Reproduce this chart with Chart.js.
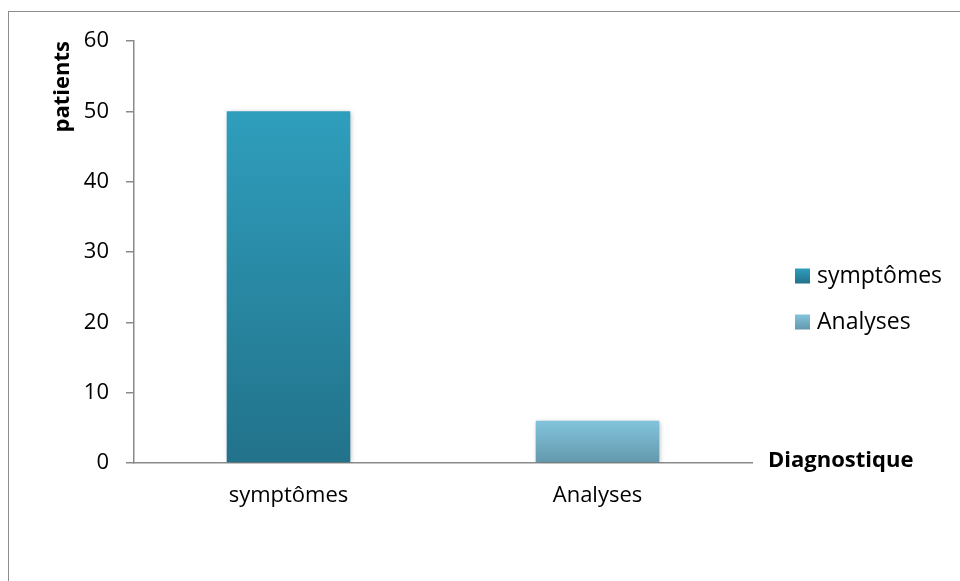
<!DOCTYPE html>
<html>
<head>
<meta charset="utf-8">
<script src="https://cdn.jsdelivr.net/npm/chart.js@4.4.1/dist/chart.umd.min.js"></script>
<style>
  html, body { margin: 0; padding: 0; background: #fff; overflow: hidden; }
  #frame { position: absolute; left: 8px; top: 11px; width: 1200px; height: 800px; border: 1px solid #8c8c8c; box-sizing: border-box; }
  #wrap { position: absolute; left: 0; top: 0; width: 960px; height: 581px; }
</style>
</head>
<body>
<div id="frame"></div>
<div id="wrap"><canvas id="chart" width="960" height="581"></canvas></div>
<script>
// Diagnostic method counts
const categories = ['symptômes', 'Analyses'];
const patients = [50, 6];
const yTicks = [0, 10, 20, 30, 40, 50, 60];
const yAxisTitle = 'patients';
const xAxisTitle = 'Diagnostique';

// top / bottom gradient stops per category
const topColors = ['#2f9ebd', '#82c4dc'];
const bottomColors = ['#22728a', '#6398ac'];

const FONT = '"Open Sans", "Noto Sans", sans-serif';
const AXIS_GREY = '#8a8a8a';

function barGradient(ctx, i, yTop, yBottom) {
  const g = ctx.createLinearGradient(0, yTop, 0, yBottom);
  g.addColorStop(0, topColors[i]);
  g.addColorStop(1, bottomColors[i]);
  return g;
}

// soft drop shadow behind bars
const barShadow = {
  id: 'barShadow',
  beforeDatasetsDraw(chart) {
    const ctx = chart.ctx;
    ctx.save();
    ctx.shadowColor = 'rgba(0,0,0,0.30)';
    ctx.shadowBlur = 5;
    ctx.shadowOffsetX = 1;
    ctx.shadowOffsetY = 1;
  },
  afterDatasetsDraw(chart) {
    chart.ctx.restore();
  }
};

// x-axis title at the right end of the axis, and the category legend
const extras = {
  id: 'extras',
  afterDraw(chart) {
    const ctx = chart.ctx;
    const area = chart.chartArea;
    ctx.save();
    ctx.fillStyle = '#000';
    ctx.font = 'bold 22px ' + FONT;
    ctx.textAlign = 'left';
    ctx.textBaseline = 'alphabetic';
    ctx.fillText(xAxisTitle, area.right + 16, area.bottom + 4);

    const lx = area.right + 43;
    const rows = [276, 322];
    ctx.font = '23px ' + FONT;
    ctx.textBaseline = 'middle';
    categories.forEach((name, i) => {
      const cy = rows[i];
      ctx.fillStyle = barGradient(ctx, i, cy - 7.5, cy + 7.5);
      ctx.fillRect(lx, cy - 7.5, 15, 15);
      ctx.fillStyle = '#000';
      ctx.fillText(name, lx + 22, cy);
    });
    ctx.restore();
  }
};

new Chart(document.getElementById('chart'), {
  type: 'bar',
  data: {
    labels: categories,
    datasets: [{
      label: yAxisTitle,
      data: patients,
      backgroundColor(context) {
        const chart = context.chart;
        if (!chart.chartArea || context.type !== 'data') return topColors[context.dataIndex || 0];
        const y = chart.scales.y;
        const i = context.dataIndex;
        return barGradient(chart.ctx, i, y.getPixelForValue(patients[i]), y.getPixelForValue(0));
      },
      borderWidth: 0,
      categoryPercentage: 1.0,
      barPercentage: 0.40
    }]
  },
  options: {
    responsive: false,
    animation: false,
    devicePixelRatio: 1,
    layout: { padding: { top: 41, right: 208, bottom: 0, left: 0 } },
    plugins: {
      legend: { display: false },
      tooltip: { enabled: false }
    },
    scales: {
      x: {
        grid: { display: true, drawOnChartArea: false, drawTicks: false },
        border: { display: true, color: AXIS_GREY, width: 1.5 },
        ticks: { color: '#000', font: { family: FONT, size: 22 }, padding: 20, maxRotation: 0 },
        afterFit(scale) { scale.height = 118; }
      },
      y: {
        min: 0,
        max: 60,
        afterBuildTicks(scale) { scale.ticks = yTicks.map(v => ({ value: v })); },
        grid: { display: true, drawOnChartArea: false, drawTicks: true, tickLength: 8, color: AXIS_GREY, lineWidth: 1.5 },
        border: { display: true, color: AXIS_GREY, width: 1.5 },
        ticks: { color: '#000', font: { family: FONT, size: 22 }, padding: 17 },
        title: {
          display: true,
          text: yAxisTitle,
          align: 'end',
          color: '#000',
          font: { family: FONT, size: 22, weight: 'bold' },
          padding: { top: 50, bottom: 0 }
        },
        afterFit(scale) { scale.width = 134; }
      }
    }
  },
  plugins: [barShadow, extras]
});
</script>
</body>
</html>
